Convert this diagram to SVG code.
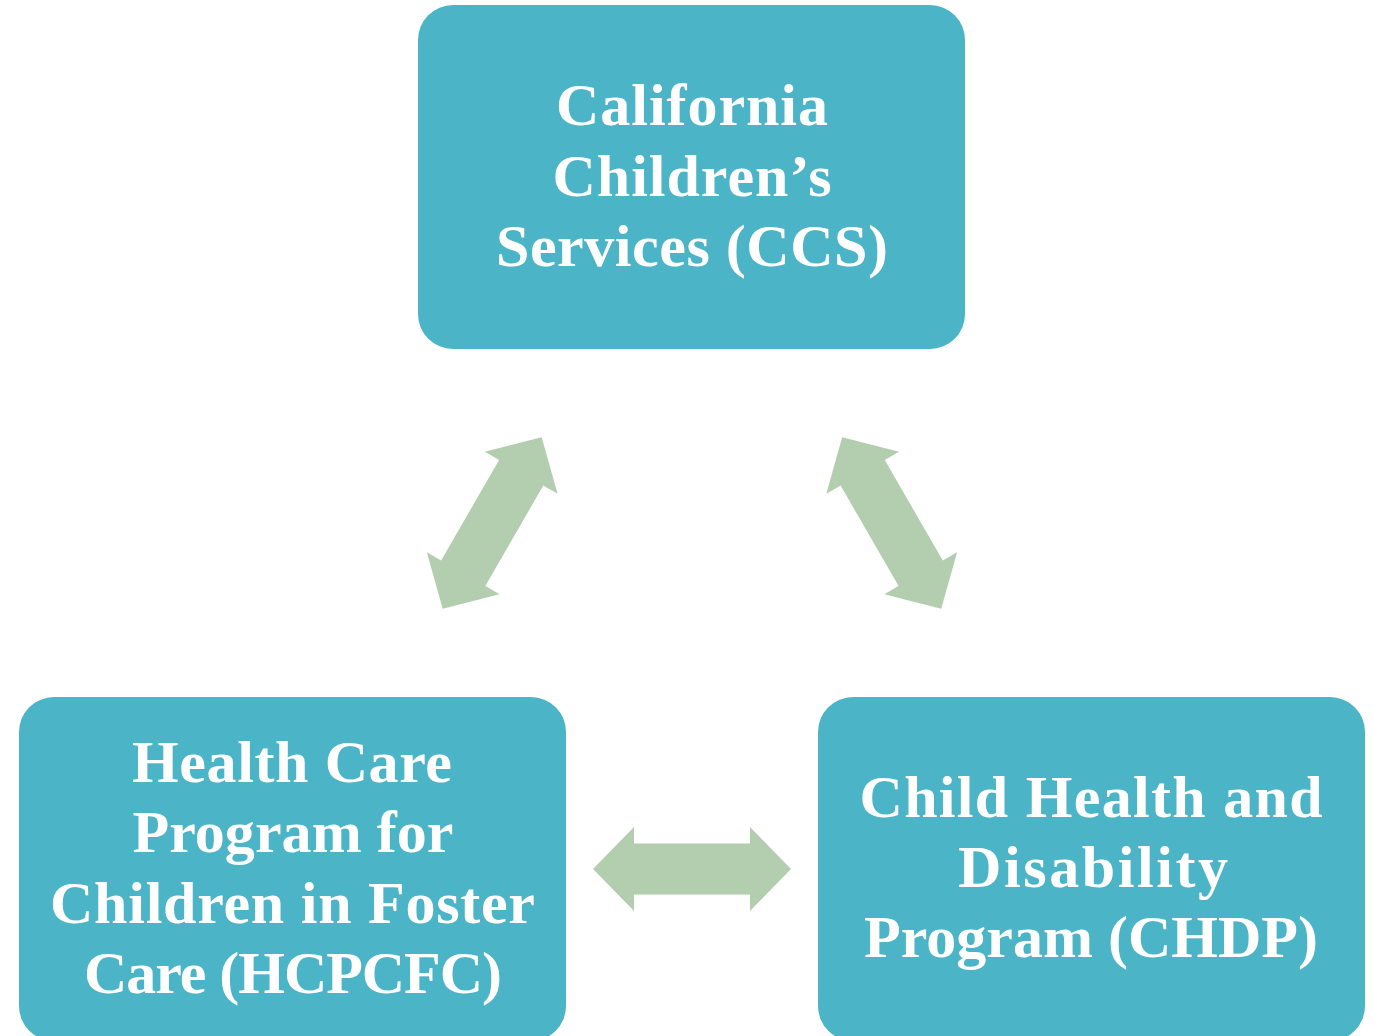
<svg xmlns="http://www.w3.org/2000/svg" width="1374" height="1036" viewBox="0 0 1374 1036">
  <style>
    .box { fill: #4BB4C6; }
    .lbl { font-family: "Liberation Serif", "Times New Roman", serif; font-weight: bold; font-size: 60px; fill: #FFFFFF; text-anchor: middle; }
    .arr { fill: #B3CDAF; }
  </style>
  <defs>
    <path id="dblarrow" d="M -99 0 L -58 -42 L -58 -25.5 L 58 -25.5 L 58 -42 L 99 0 L 58 42 L 58 25.5 L -58 25.5 L -58 42 Z"/>
  </defs>
  <rect width="1374" height="1036" fill="#FFFFFF"/>
  <g id="connectors">
    <use href="#dblarrow" class="arr" transform="translate(492.2 523) rotate(-60)"/>
    <use href="#dblarrow" class="arr" transform="translate(891.7 523) rotate(60)"/>
    <use href="#dblarrow" class="arr" transform="translate(692 869)"/>
  </g>
  <g id="ccs">
    <rect class="box" x="418" y="5" width="547" height="344" rx="35" ry="35"/>
    <text class="lbl" x="692" y="125" textLength="272" lengthAdjust="spacing">California</text>
    <text class="lbl" x="692" y="195.5" textLength="279" lengthAdjust="spacing">Children’s</text>
    <text class="lbl" x="692" y="266" textLength="392" lengthAdjust="spacing">Services (CCS)</text>
  </g>
  <g id="hcpcfc">
    <rect class="box" x="19" y="697" width="547" height="344" rx="35" ry="35"/>
    <text class="lbl" x="292" y="782" textLength="320" lengthAdjust="spacing">Health Care</text>
    <text class="lbl" x="293" y="852" textLength="321" lengthAdjust="spacing">Program for</text>
    <text class="lbl" x="292.5" y="923" textLength="485" lengthAdjust="spacing">Children in Foster</text>
    <text class="lbl" x="293" y="993" textLength="418" lengthAdjust="spacing">Care (HCPCFC)</text>
  </g>
  <g id="chdp">
    <rect class="box" x="818" y="697" width="547" height="344" rx="35" ry="35"/>
    <text class="lbl" x="1091" y="817" textLength="463" lengthAdjust="spacing">Child Health and</text>
    <text class="lbl" x="1093" y="887" textLength="270" lengthAdjust="spacing">Disability</text>
    <text class="lbl" x="1091" y="957" textLength="454" lengthAdjust="spacing">Program (CHDP)</text>
  </g>
</svg>
